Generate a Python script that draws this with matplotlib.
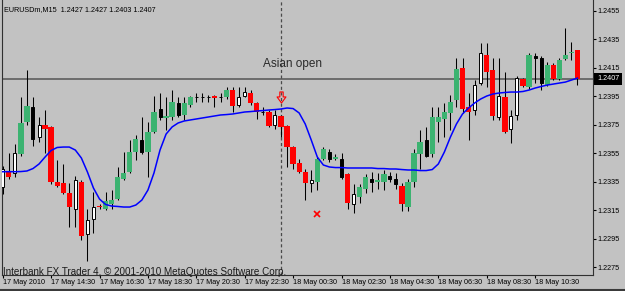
import numpy as np
import matplotlib.pyplot as plt
from matplotlib.path import Path
from matplotlib.lines import Line2D
from matplotlib.transforms import blended_transform_factory

plt.rcParams['font.family'] = ['Liberation Sans', 'DejaVu Sans']

# EURUSD M15 bars, 17 May 2010 12:30 -> 18 May 12:15
opens = [1.2331, 1.2342, 1.2341, 1.2354, 1.2377, 1.2387, 1.2366, 1.2375, 1.2373, 1.2335,
         1.2334, 1.2327, 1.2316, 1.2335, 1.2298, 1.2309, 1.2318, 1.2316, 1.2319, 1.2323,
         1.2337, 1.2342, 1.2356, 1.2364, 1.2356, 1.2370, 1.2386, 1.2380, 1.2380, 1.2390,
         1.2382, 1.2389, 1.2394, 1.2394, 1.2394, 1.2395, 1.2394, 1.2394, 1.2399, 1.2389,
         1.2395, 1.2397, 1.2390, 1.2384, 1.2384, 1.2375, 1.2381, 1.2374, 1.2359, 1.2348,
         1.2342, 1.2334, 1.2335, 1.2351, 1.2356, 1.2351, 1.2351, 1.2340, 1.2319, 1.2324,
         1.2330, 1.2337, 1.2335, 1.2335, 1.2339, 1.2337, 1.2332, 1.2317, 1.2335, 1.2354,
         1.2364, 1.2354, 1.2377, 1.2379, 1.2383, 1.2392, 1.2415, 1.2387, 1.2385, 1.2404,
         1.2424, 1.2413, 1.2380, 1.2394, 1.2372, 1.2382, 1.2407, 1.2401, 1.2423, 1.2422,
         1.2403, 1.2417, 1.2407, 1.2421, 1.2425, 1.2427]
highs = [1.2346, 1.2355, 1.2361, 1.2394, 1.2413, 1.2394, 1.2380, 1.2385, 1.2374, 1.2350,
         1.2347, 1.2334, 1.2339, 1.2336, 1.2316, 1.2328, 1.2319, 1.2328, 1.2329, 1.2345,
         1.2356, 1.2364, 1.2368, 1.2380, 1.2377, 1.2395, 1.2397, 1.2394, 1.2399, 1.2394,
         1.2394, 1.2395, 1.2397, 1.2397, 1.2396, 1.2396, 1.2397, 1.2401, 1.2401, 1.2401,
         1.2401, 1.2399, 1.2391, 1.2387, 1.2385, 1.2385, 1.2382, 1.2375, 1.2360, 1.2351,
         1.2344, 1.2343, 1.2352, 1.2359, 1.2358, 1.2354, 1.2355, 1.2341, 1.2333, 1.2333,
         1.2340, 1.2342, 1.2341, 1.2343, 1.2342, 1.2341, 1.2334, 1.2337, 1.2358, 1.2371,
         1.2373, 1.2387, 1.2387, 1.2390, 1.2396, 1.2422, 1.2422, 1.2397, 1.2406, 1.2432,
         1.2432, 1.2422, 1.2422, 1.2412, 1.2385, 1.2409, 1.2408, 1.2425, 1.2425, 1.2423,
         1.2419, 1.2418, 1.2422, 1.2443, 1.2433, 1.2427]
lows = [1.2326, 1.2337, 1.2338, 1.2353, 1.2375, 1.2360, 1.2363, 1.2355, 1.2333, 1.2331,
        1.2326, 1.2303, 1.2303, 1.2294, 1.2279, 1.2299, 1.2316, 1.2315, 1.2316, 1.2322,
        1.2336, 1.2341, 1.2350, 1.2354, 1.2338, 1.2369, 1.2378, 1.2371, 1.2378, 1.2380,
        1.2378, 1.2387, 1.2391, 1.2391, 1.2391, 1.2387, 1.2391, 1.2393, 1.2384, 1.2387,
        1.2394, 1.2389, 1.2379, 1.2382, 1.2373, 1.2372, 1.2366, 1.2345, 1.2344, 1.2341,
        1.2322, 1.2328, 1.2329, 1.2350, 1.2349, 1.2350, 1.2337, 1.2316, 1.2313, 1.2320,
        1.2327, 1.2328, 1.2330, 1.2329, 1.2335, 1.2330, 1.2314, 1.2314, 1.2331, 1.2344,
        1.2352, 1.2352, 1.2363, 1.2366, 1.2371, 1.2387, 1.2383, 1.2364, 1.2382, 1.2403,
        1.2401, 1.2378, 1.2378, 1.2369, 1.2362, 1.2378, 1.2401, 1.2400, 1.2404, 1.2399,
        1.2402, 1.2406, 1.2406, 1.2420, 1.2420, 1.2403]
closes = [1.2344, 1.2338, 1.2355, 1.2376, 1.2388, 1.2365, 1.2375, 1.2372, 1.2335, 1.2332,
          1.2327, 1.2317, 1.2336, 1.2297, 1.2308, 1.2317, 1.2317, 1.2321, 1.2322, 1.2338,
          1.2341, 1.2356, 1.2365, 1.2356, 1.2370, 1.2384, 1.2380, 1.2381, 1.2391, 1.2382,
          1.2390, 1.2394, 1.2394, 1.2394, 1.2394, 1.2394, 1.2394, 1.2399, 1.2388, 1.2394,
          1.2398, 1.2390, 1.2384, 1.2384, 1.2374, 1.2382, 1.2373, 1.2359, 1.2347, 1.2342,
          1.2334, 1.2336, 1.2351, 1.2358, 1.2351, 1.2352, 1.2338, 1.2320, 1.2326, 1.2331,
          1.2338, 1.2335, 1.2336, 1.2340, 1.2337, 1.2333, 1.2319, 1.2335, 1.2355, 1.2363,
          1.2353, 1.2380, 1.2380, 1.2384, 1.2391, 1.2414, 1.2386, 1.2384, 1.2403, 1.2425,
          1.2412, 1.2381, 1.2395, 1.2370, 1.2381, 1.2408, 1.2402, 1.2424, 1.2422, 1.2404,
          1.2417, 1.2407, 1.2420, 1.2424, 1.2426, 1.2407]
# g / r = bars painted by the indicator, w / k = plain bull / bear candles
kinds = ['w', 'r', 'w', 'g', 'g', 'k', 'w', 'r', 'r', 'r',
         'r', 'r', 'w', 'r', 'w', 'w', 'r', 'g', 'g', 'g',
         'g', 'g', 'g', 'k', 'g', 'g', 'k', 'g', 'g', 'k',
         'g', 'g', 'k', 'k', 'k', 'r', 'k', 'g', 'r', 'w',
         'w', 'r', 'r', 'k', 'r', 'w', 'r', 'r', 'r', 'r',
         'r', 'w', 'g', 'g', 'k', 'g', 'k', 'r', 'w', 'g',
         'g', 'k', 'g', 'g', 'k', 'k', 'r', 'g', 'g', 'g',
         'k', 'g', 'g', 'g', 'g', 'g', 'r', 'r', 'w', 'w',
         'r', 'r', 'w', 'r', 'w', 'w', 'r', 'g', 'k', 'k',
         'g', 'r', 'g', 'g', 'g', 'r']
# blue moving average
ma = [1.23419, 1.23419, 1.23419, 1.23420, 1.23424, 1.23441, 1.23473, 1.23522, 1.23568, 1.23589,
      1.23592, 1.23592, 1.23571, 1.23515, 1.23417, 1.23304, 1.23227, 1.23189, 1.23178, 1.23175,
      1.23171, 1.23171, 1.23185, 1.23220, 1.23290, 1.23410, 1.23571, 1.23683, 1.23733, 1.23761,
      1.23775, 1.23782, 1.23789, 1.23796, 1.23803, 1.23810, 1.23817, 1.23820, 1.23824, 1.23831,
      1.23838, 1.23841, 1.23845, 1.23848, 1.23852, 1.23855, 1.23859, 1.23866, 1.23862, 1.23831,
      1.23754, 1.23641, 1.23522, 1.23466, 1.23452, 1.23448, 1.23448, 1.23445, 1.23445, 1.23445,
      1.23445, 1.23445, 1.23441, 1.23441, 1.23438, 1.23438, 1.23434, 1.23431, 1.23431, 1.23427,
      1.23427, 1.23434, 1.23473, 1.23557, 1.23662, 1.23754, 1.23824, 1.23866, 1.23901, 1.23929,
      1.23950, 1.23964, 1.23971, 1.23975, 1.23978, 1.23978, 1.23982, 1.23992, 1.24006, 1.24017,
      1.24027, 1.24034, 1.24041, 1.24048, 1.24062, 1.24076]

time_labels = ['17 May 2010', '17 May 14:30', '17 May 16:30', '17 May 18:30', '17 May 20:30',
               '17 May 22:30', '18 May 00:30', '18 May 02:30', '18 May 04:30', '18 May 06:30',
               '18 May 08:30', '18 May 10:30']
price_ticks = [1.2275, 1.2295, 1.2315, 1.2335, 1.2355, 1.2375, 1.2395, 1.2415, 1.2435, 1.2455]
bid = 1.2407
asian_open_bar = 46
signal_bar, signal_price = 52, 1.2312
header = 'EURUSDm,M15  1.2427 1.2427 1.2403 1.2407'

BG = '#C2C2C2'
GREEN = '#3CB371'
RED = '#FF0000'

fig = plt.figure(figsize=(6.25, 2.91), dpi=100)
fig.patch.set_facecolor(BG)
ax = fig.add_axes([2 / 625, 16 / 291, 591 / 625, 275 / 291])
ax.set_facecolor(BG)

x = np.arange(len(opens))
o = np.array(opens)
c = np.array(closes)
kinds = np.array(kinds)

ax.axhline(bid, color='#666666', lw=1.3, zorder=1)
ax.axvline(asian_open_bar, color='#4A4A4A', lw=0.9, ls=(0, (2.5, 2)), zorder=1)

ax.vlines(x, lows, highs, color='black', lw=0.75, zorder=3)

styles = {'g': (GREEN, GREEN, 0.88, 0.0),
          'r': (RED, RED, 0.88, 0.0),
          'w': ('white', 'black', 0.5, 0.7),
          'k': ('black', 'black', 0.5, 0.7)}
for k, (fc, ec, w, lw) in styles.items():
    sel = kinds == k
    lo = np.minimum(o, c)[sel]
    hgt = np.abs(c - o)[sel]
    if lw == 0:
        pad = np.maximum(0.00012 - hgt, 0) / 2
        lo = lo - pad
        hgt = hgt + 2 * pad
    ax.bar(x[sel], hgt, bottom=lo, width=w, color=fc, edgecolor=ec,
           linewidth=lw, zorder=4)

ax.plot(x, ma, color='#0000FF', lw=1.1, zorder=5)

# hollow down arrow over the Asian open bar, red cross below
arrow = Path([(-0.3, 1), (0.3, 1), (0.3, 0.1), (0.8, 0.1), (0, -1), (-0.8, 0.1),
              (-0.3, 0.1), (-0.3, 1)],
             [Path.MOVETO] + [Path.LINETO] * 6 + [Path.CLOSEPOLY])
ax.plot([asian_open_bar], [1.23945], marker=arrow, ms=8, mfc='none', mec=RED,
        mew=0.8, zorder=6)
ax.plot([signal_bar], [signal_price], marker='x', ms=4, mec=RED, mew=1.2, zorder=6)

ax.text(47.9, 1.24154, 'Asian open', fontsize=8.5, color='#2A2A2A',
        ha='center', va='baseline', zorder=6)

ax.set_xlim(-0.12, 97.57)
ax.set_ylim(1.22694, 1.24624)

ax.set_xticks(list(range(0, 96, 8)))
ax.set_xticklabels(time_labels, ha='left')
ax.tick_params(axis='x', direction='out', length=2.2, width=0.8, pad=0.6,
               labelsize=5.2, colors='black')
ax.yaxis.tick_right()
ax.set_yticks(price_ticks)
ax.set_yticklabels(['%.4f' % p for p in price_ticks])
ax.tick_params(axis='y', direction='out', length=2.2, width=0.8, pad=0.8,
               labelsize=5.2, colors='black')

ax.spines['top'].set_visible(False)
for s in ['left', 'right', 'bottom']:
    ax.spines[s].set_color('#303030')
    ax.spines[s].set_linewidth(0.8)

tr = blended_transform_factory(ax.transAxes, ax.transData)
ax.text(1.0068, bid, '%.4f' % bid, transform=tr, fontsize=5.2, color='white',
        ha='left', va='center', clip_on=False, zorder=7,
        bbox=dict(boxstyle='square,pad=0.35', fc='black', ec='none'))

fig.text(4 / 625, 1 - 11 / 291, header, fontsize=5.2, va='baseline', color='black')
fig.text(3 / 625, 1 - 275.3 / 291, 'Interbank FX Trader 4, \u00a9 2001-2010 MetaQuotes Software Corp.',
         fontsize=7.1, va='baseline', color='#1A1A1A')
fig.add_artist(Line2D([0, 1], [1 / 291, 1 / 291], color='#3A3A3A', lw=1.5,
                      transform=fig.transFigure))

fig.savefig('out.png', dpi=100, facecolor=BG)
